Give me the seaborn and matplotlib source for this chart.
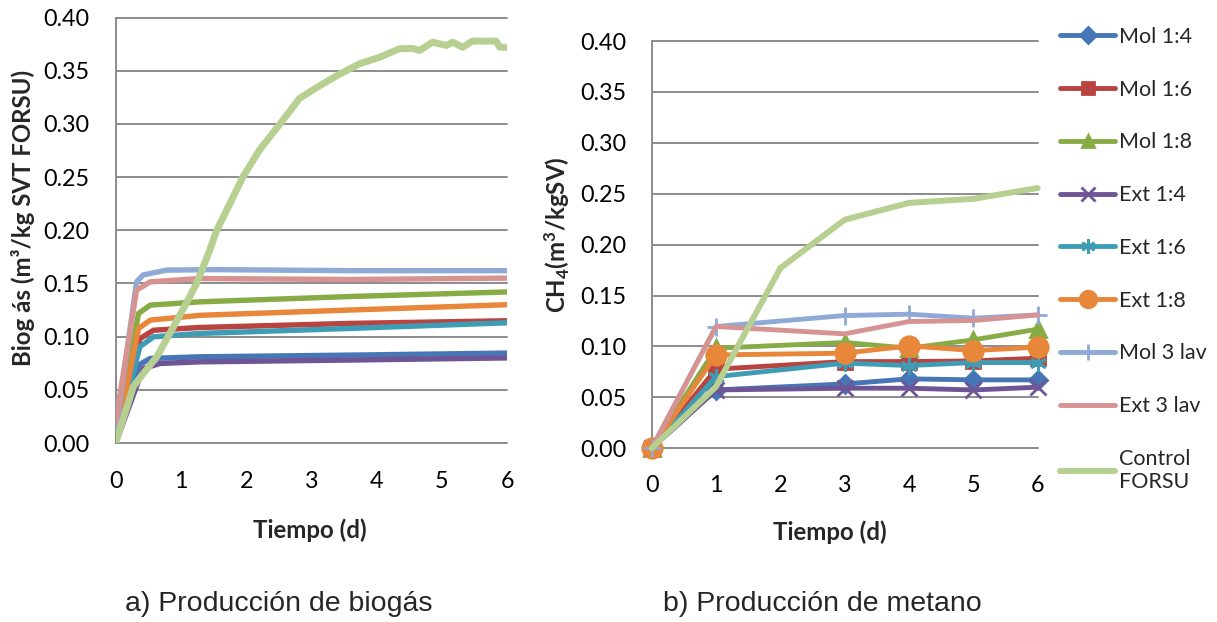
import matplotlib
matplotlib.use("Agg")
import matplotlib.pyplot as plt
import seaborn as sns
import numpy as np
import pandas as pd

# ---------------- data ----------------
series_names = ["Mol 1:4", "Mol 1:6", "Mol 1:8", "Ext 1:4", "Ext 1:6",
                "Ext 1:8", "Mol 3 lav", "Ext 3 lav", "Control FORSU"]

# a) Biogas production (m3/kg SVT FORSU) vs time (d)
t_mol14 = [0, 0.35, 0.53, 1.29, 3.59, 6.0]
v_mol14 = [0, 0.0732, 0.0795, 0.081, 0.0826, 0.0845]
t_mol16 = [0, 0.37, 0.58, 1.29, 3.59, 6.0]
v_mol16 = [0, 0.098, 0.106, 0.1086, 0.1124, 0.1149]
t_mol18 = [0, 0.35, 0.53, 1.29, 3.59, 6.0]
v_mol18 = [0, 0.1218, 0.1296, 0.1327, 0.1377, 0.142]
t_ext14 = [0, 0.42, 0.68, 1.29, 3.59, 6.0]
v_ext14 = [0, 0.070, 0.0748, 0.0763, 0.078, 0.080]
t_ext16 = [0, 0.37, 0.58, 1.29, 3.59, 6.0]
v_ext16 = [0, 0.0905, 0.0998, 0.103, 0.1077, 0.113]
t_ext18 = [0, 0.35, 0.53, 1.29, 3.59, 6.0]
v_ext18 = [0, 0.1077, 0.1155, 0.120, 0.125, 0.130]
t_mol3 = [0, 0.32, 0.42, 0.78, 1.5, 3.59, 6.0]
v_mol3 = [0.01, 0.1515, 0.158, 0.1625, 0.163, 0.162, 0.162]
t_ext3 = [0, 0.32, 0.53, 1.29, 3.59, 6.0]
v_ext3 = [0.02, 0.1437, 0.1515, 0.1546, 0.1537, 0.155]
t_ctrl = [0, 0.27, 0.42, 0.63, 0.83, 1.04, 1.24, 1.44, 1.55, 1.95, 2.2, 2.52,
          2.82, 3.13, 3.44, 3.74, 4.05, 4.35, 4.55, 4.66, 4.86, 5.07, 5.17,
          5.32, 5.47, 5.83, 5.89, 6.0]
v_ctrl = [0, 0.053, 0.065, 0.081, 0.103, 0.1265, 0.15, 0.181, 0.20, 0.25,
          0.275, 0.30, 0.324, 0.336, 0.347, 0.3565, 0.3627, 0.3706, 0.371,
          0.369, 0.3768, 0.3737, 0.3768, 0.372, 0.3778, 0.3778, 0.372, 0.372]

# b) Methane production (m3/kgSV) vs time (d)
days_b = [0, 1, 3, 4, 5, 6]
ch4_mol14 = [0, 0.0573, 0.0632, 0.0682, 0.0672, 0.0672]
ch4_mol16 = [0, 0.0777, 0.0852, 0.0852, 0.0858, 0.0885]
ch4_mol18 = [0, 0.0983, 0.1039, 0.0983, 0.1065, 0.117]
ch4_ext14 = [0, 0.0573, 0.059, 0.059, 0.0573, 0.060]
ch4_ext16 = [0, 0.0704, 0.0836, 0.0813, 0.0842, 0.0842]
ch4_ext18 = [0, 0.0917, 0.0934, 0.1006, 0.096, 0.0993]
ch4_mol3 = [0, 0.1196, 0.1304, 0.1317, 0.1278, 0.131]
ch4_ext3 = [0, 0.1196, 0.1124, 0.1245, 0.1255, 0.131]
days_ctrl_b = [0, 1, 2, 3, 4, 5, 6]
ch4_ctrl = [0, 0.0606, 0.177, 0.2245, 0.241, 0.245, 0.2556]

yticks = [0.00, 0.05, 0.10, 0.15, 0.20, 0.25, 0.30, 0.35, 0.40]
xticks = [0, 1, 2, 3, 4, 5, 6]

# ---------------- style ----------------
sns.set_style("white")
plt.rcParams["font.family"] = ["Lato", "DejaVu Sans"]
plt.rcParams["mathtext.fontset"] = "custom"
plt.rcParams["mathtext.rm"] = "Lato:bold"
plt.rcParams["mathtext.bf"] = "Lato:bold"
plt.rcParams["mathtext.default"] = "bf"

colors = ["#4676B5", "#B8433F", "#88AC45", "#6E5596", "#3E9DB5",
          "#E8863A", "#8FAAD6", "#D69391", "#B7D091"]
grid_c = "#8C8C8C"

fig = plt.figure(figsize=(12.17, 6.22), dpi=100)
W, H = 1217, 622
ax1 = fig.add_axes([115.7 / W, 1 - 443 / H, (507 - 115.7) / W, (443 - 17.5) / H])
ax2 = fig.add_axes([651.7 / W, 1 - 448.3 / H, 386 / W, (448.3 - 41) / H])

# ---- left panel ----
left_data = [(t_mol14, v_mol14), (t_mol16, v_mol16), (t_mol18, v_mol18),
             (t_ext14, v_ext14), (t_ext16, v_ext16), (t_ext18, v_ext18),
             (t_mol3, v_mol3), (t_ext3, v_ext3), (t_ctrl, v_ctrl)]
for i, (tt, vv) in enumerate(left_data):
    lw = 5.0 if i == 8 else 3.9
    sns.lineplot(x=tt, y=vv, ax=ax1, color=colors[i], lw=lw, sort=False,
                 estimator=None, solid_joinstyle="round", zorder=3 + i)

# ---- right panel ----
right_vals = [ch4_mol14, ch4_mol16, ch4_mol18, ch4_ext14, ch4_ext16,
              ch4_ext18, ch4_mol3, ch4_ext3]
markers = ["D", "s", "^", "x", (6, 2, 0), "o", "+", None]
msizes = [9, 10, 11, 12, 12, 14, 13, 0]
handles = []
for i, vv in enumerate(right_vals):
    kw = dict(marker=markers[i], markersize=msizes[i], markeredgewidth=2,
              markerfacecolor=colors[i], markeredgecolor=colors[i])
    if markers[i] is None:
        kw = {}
    sns.lineplot(x=days_b, y=vv, ax=ax2, color=colors[i], lw=3.5,
                 estimator=None, clip_on=False, zorder=3 + i, **kw)
    handles.append(ax2.lines[-1])
sns.lineplot(x=days_ctrl_b, y=ch4_ctrl, ax=ax2, color=colors[8], lw=4.3,
             estimator=None, clip_on=False, zorder=12)
handles.append(ax2.lines[-1])

for ax in (ax1, ax2):
    ax.set_xlim(0, 6)
    ax.set_ylim(0, 0.40)
    ax.set_xticks(xticks)
    ax.set_yticks(yticks)
    ax.set_yticklabels([f"{v:.2f}" for v in yticks])
    ax.set_xticklabels([str(v) for v in xticks])
    ax.yaxis.grid(True, color=grid_c, lw=1.4)
    ax.xaxis.grid(False)
    ax.set_axisbelow(True)
    for s in ("top", "right", "bottom"):
        ax.spines[s].set_visible(False)
    ax.spines["left"].set_color(grid_c)
    ax.spines["left"].set_linewidth(1.4)
    ax.tick_params(axis="both", length=0, labelsize=16.8, colors="black")
    ax.set_xlabel("")
    ax.set_ylabel("")
    for gl in ax.get_ygridlines():
        gl.set_clip_on(False)

ax1.tick_params(axis="y", pad=19)
ax1.tick_params(axis="x", pad=20)
ax2.tick_params(axis="y", pad=18)
ax2.tick_params(axis="x", pad=19)

# axis labels
fig.text(310 / W, 1 - 530 / H, "Tiempo (d)", ha="center", va="center",
         fontsize=17.3, fontweight="bold")
fig.text(830 / W, 1 - 532 / H, "Tiempo (d)", ha="center", va="center",
         fontsize=17.3, fontweight="bold")
fig.text(23 / W, 1 - 218 / H, "Biog ás (m³/kg SVT FORSU)", rotation=90,
         ha="center", va="center", fontsize=17.3, fontweight="bold")
fig.text(557 / W, 1 - 235 / H, r"CH$_4$(m$^3$/kgSV)", rotation=90,
         ha="center", va="center", fontsize=17.3, fontweight="bold")

# captions
fig.text(125 / W, 1 - 611 / H, "a) Producción de biogás", ha="left",
         va="baseline", fontsize=20.5, family="Liberation Sans")
fig.text(663 / W, 1 - 611 / H, "b) Producción de metano", ha="left",
         va="baseline", fontsize=20.5, family="Liberation Sans")

# legend
labels = ["Mol 1:4", "Mol 1:6", "Mol 1:8", "Ext 1:4", "Ext 1:6", "Ext 1:8",
          "Mol 3 lav", "Ext 3 lav", "Control\nFORSU"]
leg = fig.legend(handles, labels, loc="upper left",
                 bbox_to_anchor=(1060 / W, 1 - 27 / H), frameon=False,
                 borderpad=0, borderaxespad=0, handlelength=2.56,
                 handletextpad=0.2, labelspacing=1.52, fontsize=15.5,
                 markerscale=0.85)

fig.savefig("out.png", dpi=100)
